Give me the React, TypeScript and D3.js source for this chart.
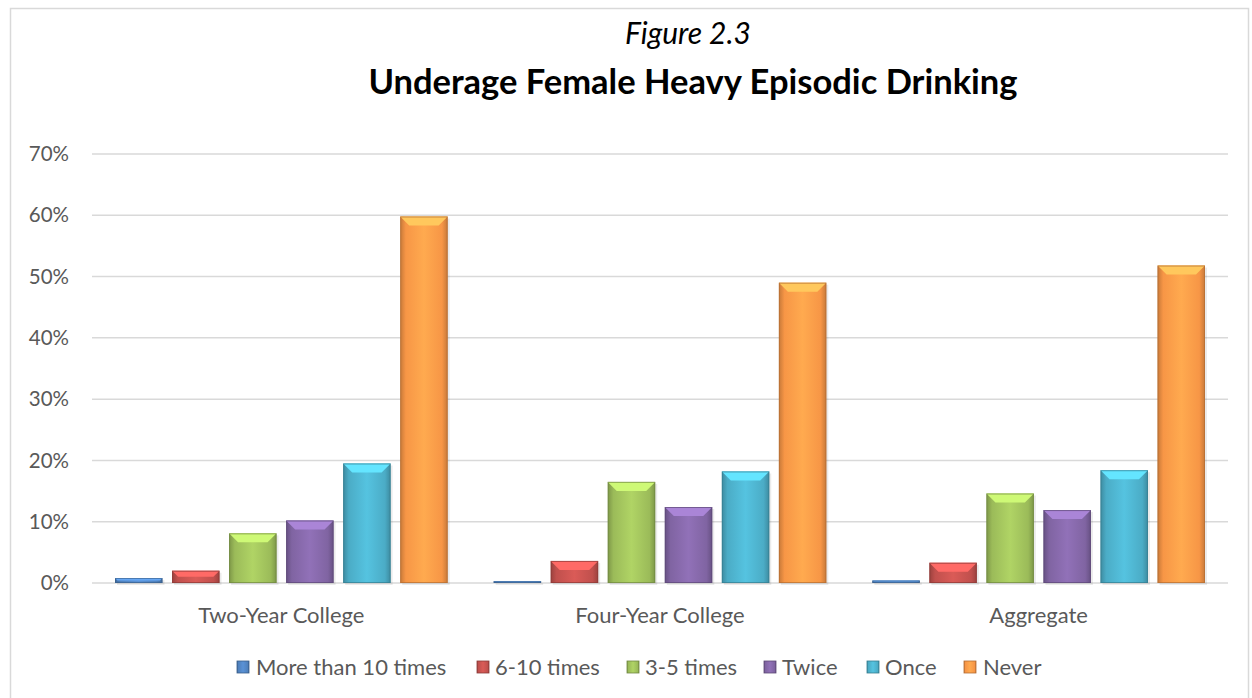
import React from "react";
import * as d3 from "d3";

const categories = ["Two-Year College", "Four-Year College", "Aggregate"];
const seriesNames = ["More than 10 times", "6-10 times", "3-5 times", "Twice", "Once", "Never"];
const moreThan10 = [0.8, 0.3, 0.4];
const sixTo10 = [2.0, 3.6, 3.3];
const threeTo5 = [8.1, 16.5, 14.6];
const twice = [10.2, 12.4, 11.9];
const once = [19.5, 18.2, 18.4];
const never = [59.8, 49.0, 51.8];
const seriesValues = [moreThan10, sixTo10, threeTo5, twice, once, never];
const yTicks = [0, 10, 20, 30, 40, 50, 60, 70];
const colors = ["#4f81bd", "#c0504d", "#9bbb59", "#8064a2", "#4bacc6", "#f79646"];

const W = 1252;
const H = 698;
const plot = { left: 92, right: 1228, top: 154, bottom: 583 };

export default function App() {
  const x0 = d3.scaleBand<string>().domain(categories).range([plot.left, plot.right]).padding(0);
  const inner = 23;
  const x1 = d3
    .scaleBand<string>()
    .domain(seriesNames)
    .range([inner, x0.bandwidth() - inner])
    .paddingInner(0.168)
    .paddingOuter(0);
  const y = d3.scaleLinear().domain([0, 70]).range([plot.bottom, plot.top]);
  const font = "Lato, 'Open Sans', sans-serif";

  const legendItems = [
    { x: 237, tx: 256 },
    { x: 477, tx: 495 },
    { x: 627, tx: 645 },
    { x: 764, tx: 782 },
    { x: 867, tx: 885 },
    { x: 964, tx: 983 },
  ];

  return (
    <svg
      width={W}
      height={H}
      style={{ position: "absolute", left: 0, top: 0, display: "block", background: "#fff" }}
    >
      <defs>
        {colors.map((c, i) => {
          const dark = d3.color(c)!.darker(0.6).formatHex();
          const light = d3.color(c)!.brighter(0.35).formatHex();
          return (
            <linearGradient key={i} id={`g${i}`} x1="0" x2="1" y1="0" y2="0">
              <stop offset="0" stopColor={dark} />
              <stop offset="0.12" stopColor={c} />
              <stop offset="0.5" stopColor={light} />
              <stop offset="0.88" stopColor={c} />
              <stop offset="1" stopColor={dark} />
            </linearGradient>
          );
        })}
      </defs>
      <rect x={10.5} y={8.5} width={1238} height={700} fill="#fff" stroke="#d9d9d9" strokeWidth={1.5} />

      <text x={688} y={44} textAnchor="middle" fontFamily={font} fontStyle="italic" fontSize={30} fill="#000">
        Figure 2.3
      </text>
      <text x={693} y={94} textAnchor="middle" fontFamily={font} fontWeight="bold" fontSize={34.5} fill="#000">
        Underage Female Heavy Episodic Drinking
      </text>

      {yTicks.map((t) => (
        <g key={t}>
          <line x1={plot.left} x2={plot.right} y1={y(t)} y2={y(t)} stroke="#d9d9d9" strokeWidth={1.5} />
          <text x={69} y={y(t)} dy="0.35em" textAnchor="end" fontFamily={font} fontSize={20.5} fill="#595959">
            {t}%
          </text>
        </g>
      ))}

      {categories.map((cat, ci) => (
        <g key={cat} transform={`translate(${x0(cat)},0)`}>
          {seriesNames.map((s, si) => {
            const v = seriesValues[si][ci];
            const bx = x1(s)!;
            const bw = x1.bandwidth();
            const by = y(v);
            const bh = y(0) - by;
            const b = Math.min(9, bh * 0.5, bw / 2);
            const c = colors[si];
            const top = d3.color(c)!.brighter(0.8).formatHex();
            const edge = d3.color(c)!.darker(0.9).formatHex();
            return (
              <g key={s}>
                <rect x={bx + 2} y={by + 2} width={bw} height={bh} fill="#000" opacity={0.08} />
                <rect x={bx} y={by} width={bw} height={bh} fill={`url(#g${si})`} />
                <polygon
                  points={`${bx},${by} ${bx + bw},${by} ${bx + bw - b},${by + b} ${bx + b},${by + b}`}
                  fill={top}
                />
                <rect x={bx + 0.5} y={by + 0.5} width={bw - 1} height={Math.max(0, bh - 1)} fill="none" stroke={edge} strokeWidth={1} opacity={0.7} />
              </g>
            );
          })}
          <text
            x={x0.bandwidth() / 2}
            y={615}
            dy="0.35em"
            textAnchor="middle"
            fontFamily={font}
            fontSize={22}
            fill="#595959"
          >
            {cat}
          </text>
        </g>
      ))}

      {seriesNames.map((s, i) => (
        <g key={s}>
          <rect x={legendItems[i].x} y={661} width={12} height={12} fill={`url(#g${i})`} stroke={d3.color(colors[i])!.darker(0.9).formatHex()} strokeWidth={0.8} />
          <text x={legendItems[i].tx} y={667} dy="0.35em" fontFamily={font} fontSize={22} fill="#595959">
            {s}
          </text>
        </g>
      ))}
    </svg>
  );
}
